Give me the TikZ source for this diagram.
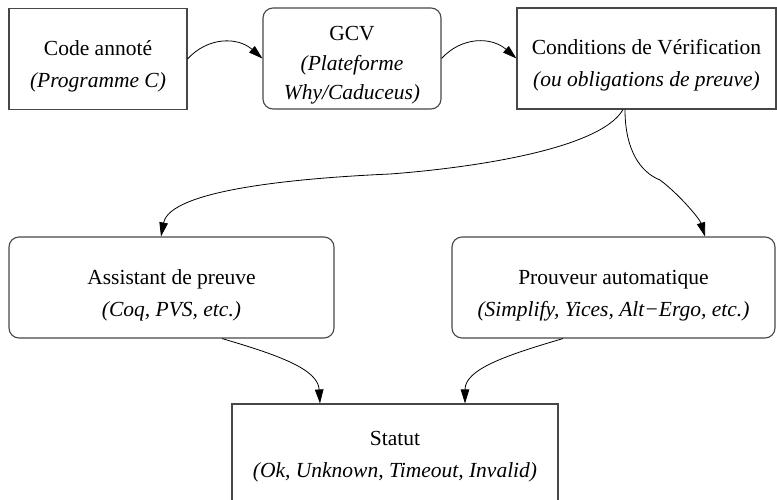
\documentclass[tikz,border=0pt]{standalone}
\usepackage{fontspec}
\setmainfont{Liberation Serif}
\usetikzlibrary{arrows.meta}
\begin{document}
\begin{tikzpicture}[x=1pt,y=-1pt,
  box/.style={draw=black!72, line width=1.1pt, minimum width=#1, minimum height=101pt,
    inner sep=0pt, align=center, font=\fontsize{21.5}{32}\selectfont},
  rbox/.style={box=#1, rounded corners=10pt},
  flow/.style={line width=0.8pt, -{Triangle[length=14pt,width=8.5pt]}},
]
\clip (0,0) rectangle (777,499);
\fill[white] (0,0) rectangle (777,499);

% top row
\node[box=178pt] (code) at (98,59)
  {\rule{0pt}{29pt}Code annoté\\\textit{(Programme C)}};
\node[rbox=178pt, font=\fontsize{21.5}{29.5}\selectfont] (gcv) at (352,58.5)
  {\rule{0pt}{28pt}GCV\\\textit{(Plateforme}\\\textit{Why/Caduceus)}};
\node[box=259pt] (cv) at (646.5,58.5)
  {\rule{0pt}{29pt}Conditions de Vérification\\\textit{(ou obligations de preuve)}};

% provers
\node[rbox=325pt] (asst) at (171.5,287.5)
  {\rule{0pt}{30pt}Assistant de preuve\\\textit{(Coq, PVS, etc.)}};
\node[rbox=323pt] (prouv) at (613.5,287.5)
  {\rule{0pt}{30pt}Prouveur automatique\\\textit{(Simplify, Yices, Alt−Ergo, etc.)}};

% result (runs past the lower edge)
\node[box=326pt, minimum height=97pt] (statut) at (395,452.5)
  {\rule{0pt}{22pt}Statut\\\textit{(Ok, Unknown, Timeout, Invalid)}};

% connectors
\draw[flow] (code.east) .. controls +(20,-22) and +(-25,-22) .. (gcv.west);
\draw[flow] (gcv.east) .. controls +(20,-22) and +(-25,-22) .. (cv.west);
\draw[flow] ([xshift=-23.5pt]cv.south) .. controls +(-23,40) and (470,168) .. (390,174)
  .. controls (300,178) and +(9,-47) .. ([xshift=-10.5pt]asst.north);
\draw[flow] ([xshift=-21.5pt]cv.south) .. controls +(0,40) and (640,172) .. (660,180)
  .. controls (680,195) and +(-5,-17) .. ([xshift=91.5pt]prouv.north);
\draw[flow] ([xshift=50.5pt]asst.south) .. controls +(58,17) and +(-2,-34) .. ([xshift=-75pt]statut.north);
\draw[flow] ([xshift=-50.5pt]prouv.south) .. controls +(-58,17) and +(0,-34) .. ([xshift=70pt]statut.north);
\end{tikzpicture}
\end{document}
